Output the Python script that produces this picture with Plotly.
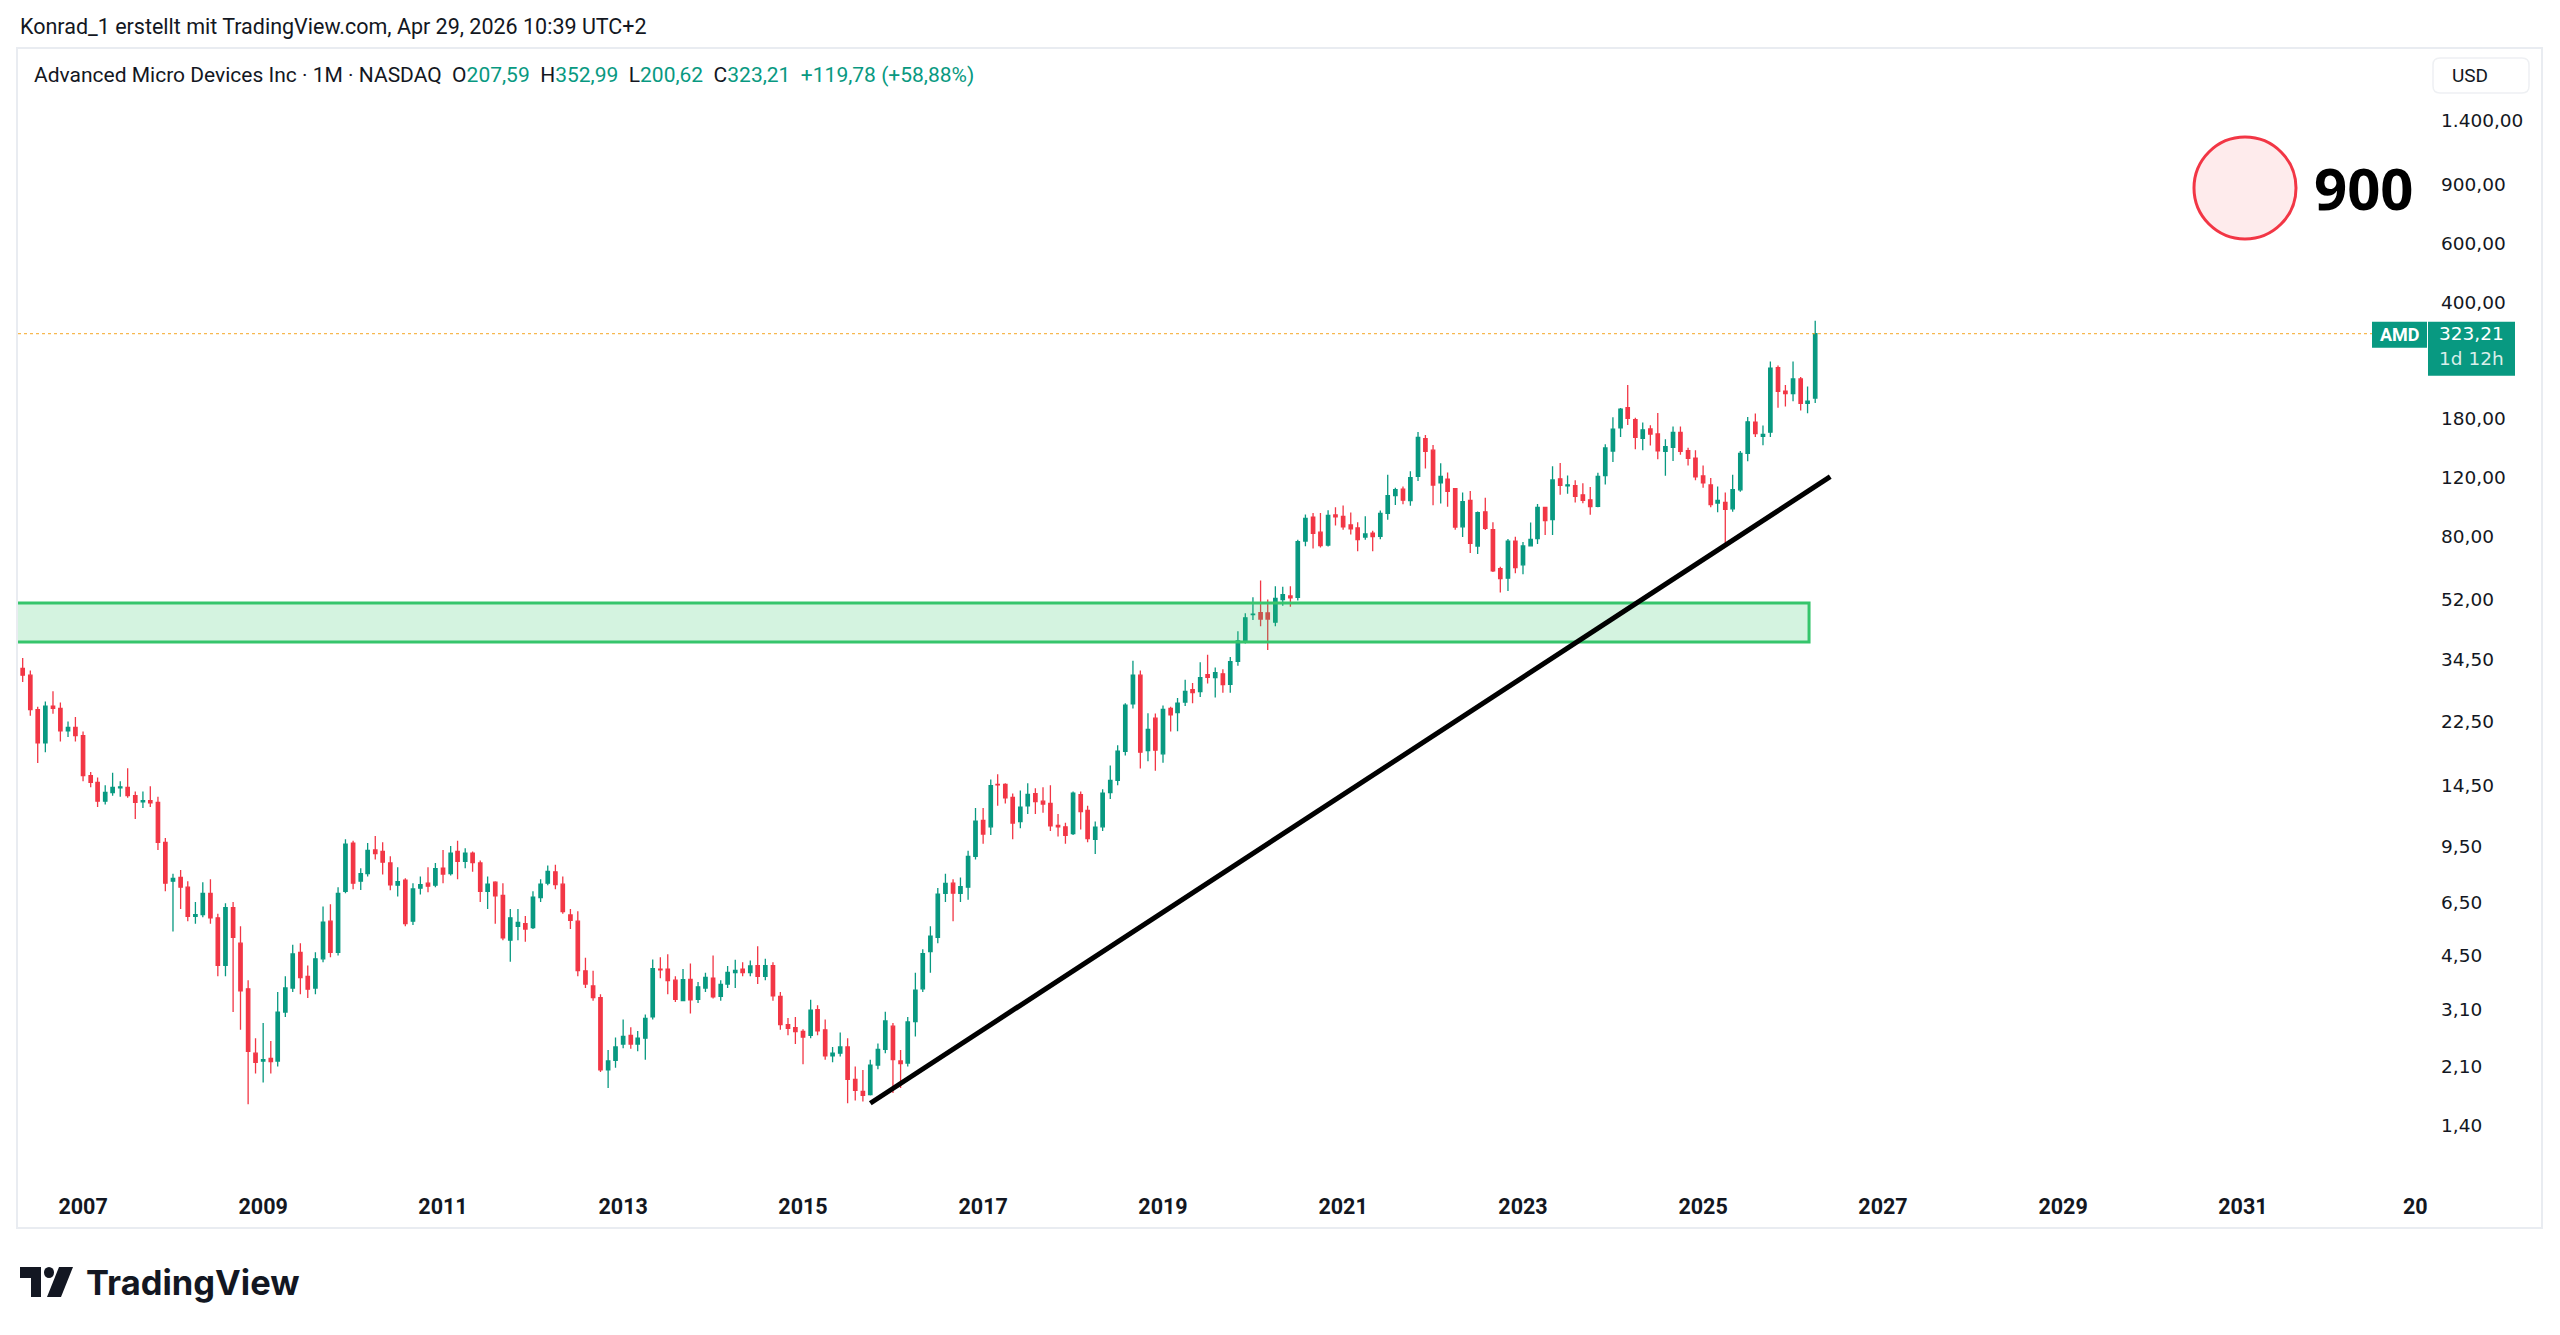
import math
import pandas as pd
import plotly.graph_objects as go

# ---------------- data (monthly candles, AMD, NASDAQ) ----------------
START_MONTH = "2006-05-01"

OPEN = [
    32.4, 30.9, 24.4, 19.4, 25.0, 24.6, 21.1, 21.6,                       # 2006 May-Dec
    20.4, 15.5, 14.8, 13.0, 13.8, 14.25, 14.3, 13.5, 12.95, 13.05, 12.9, 9.8,  # 2007
    7.5, 7.7, 7.2, 5.89, 5.96, 6.9, 5.83, 4.21, 6.25, 4.9, 3.58, 2.3,      # 2008
    2.18, 2.22, 2.18, 3.05, 3.6, 4.6, 3.9, 3.6, 4.4, 5.7, 4.6, 7.0,        # 2009
    9.75, 7.5, 7.9, 9.3, 9.2, 8.5, 7.3, 7.55, 5.7, 7.15, 7.4, 7.3,         # 2010
    8.2, 7.9, 9.2, 8.6, 9.1, 8.5, 7.0, 7.45, 6.8, 5.0, 5.5, 5.6,           # 2011
    5.45, 6.7, 7.4, 8.0, 7.35, 5.95, 5.7, 4.05, 3.65, 3.37, 2.05, 2.19,    # 2012
    2.45, 2.6, 2.45, 2.55, 2.95, 4.1, 4.1, 3.8, 3.3, 3.82, 3.33, 3.6,      # 2013
    3.85, 3.4, 3.7, 4.0, 4.1, 4.0, 4.2, 3.9, 4.2, 3.4, 2.8, 2.74,          # 2014
    2.67, 2.6, 3.1, 2.7, 2.26, 2.3, 2.4, 1.92, 1.77, 1.73, 2.12, 2.36,     # 2015
    2.77, 2.18, 2.15, 2.86, 3.58, 4.62, 5.1, 6.9, 7.4, 6.9, 7.2, 8.9,      # 2016
    11.4, 10.9, 14.6, 14.6, 13.35, 11.3, 12.6, 13.7, 13.0, 12.8, 11.0, 10.9,  # 2017
    10.4, 13.6, 12.2, 10.0, 10.9, 13.8, 15.0, 18.3, 25.4, 30.9, 18.4, 23.0,   # 2018
    18.0, 24.6, 23.9, 25.7, 28.0, 27.6, 31.0, 30.4, 31.2, 29.0, 34.0, 39.3,   # 2019
    46.9, 47.5, 47.4, 44.5, 52.0, 53.3, 52.8, 77.7, 91.6, 82.6, 75.6, 93.0,   # 2020
    92.1, 86.8, 85.0, 79.9, 82.0, 80.2, 94.0, 106.2, 111.0, 102.6, 121.2, 157.0,  # 2021
    145.1, 116.0, 119.0, 111.4, 85.7, 102.8, 75.1, 95.0, 84.0, 64.3, 60.2, 77.6,  # 2022
    66.0, 75.2, 79.0, 97.9, 90.0, 119.2, 113.5, 113.8, 106.8, 103.2, 98.6, 121.8, # 2023
    144.3, 169.3, 194.5, 179.0, 157.4, 168.0, 162.3, 144.0, 147.9, 164.0, 144.6, 137.5,  # 2024
    121.6, 114.3, 100.9, 101.4, 97.0, 110.5, 141.9, 176.0, 159.5, 164.2, 256.0, 217.6,   # 2025
    214.2, 236.7, 200.2, 207.59,                                           # 2026 Jan-Apr
]
HIGH = [
    34.8, 31.9, 24.9, 25.8, 27.7, 25.6, 22.5, 23.2,
    21.0, 15.9, 15.3, 14.5, 15.8, 14.9, 16.3, 13.9, 13.9, 14.4, 13.4, 10.1,
    7.9, 8.1, 7.5, 6.5, 7.45, 7.6, 6.0, 6.45, 6.5, 5.5, 3.8, 2.55,
    2.83, 2.5, 3.5, 3.9, 4.85, 4.9, 4.2, 4.6, 6.3, 6.4, 7.2, 10.0,
    9.9, 8.2, 9.75, 10.24, 9.8, 8.9, 8.25, 7.65, 7.4, 7.75, 8.25, 8.5,
    9.3, 9.55, 9.9, 9.4, 9.2, 8.65, 7.75, 7.5, 7.4, 6.2, 6.2, 5.9,
    7.0, 7.6, 8.35, 8.4, 7.75, 6.2, 6.1, 4.43, 4.05, 3.45, 2.35, 2.56,
    2.9, 2.75, 2.68, 3.0, 4.38, 4.45, 4.54, 3.9, 4.1, 4.26, 3.75, 4.0,
    4.5, 3.8, 4.19, 4.37, 4.3, 4.35, 4.8, 4.4, 4.3, 3.5, 2.93, 2.95,
    2.71, 3.32, 3.2, 2.9, 2.4, 2.65, 2.55, 2.1, 2.05, 2.2, 2.46, 3.06,
    2.83, 2.35, 2.95, 4.0, 4.7, 5.5, 7.16, 7.89, 7.6, 7.7, 9.25, 12.4,
    12.4, 15.1, 15.65, 14.7, 13.7, 14.0, 14.7, 14.2, 14.3, 14.5, 11.9, 11.2,
    13.9, 13.9, 12.6, 11.3, 14.1, 16.6, 19.1, 25.5, 34.14, 31.9, 23.8, 23.75,
    25.1, 24.9, 26.4, 29.95, 29.3, 33.78, 35.55, 32.6, 32.2, 35.0, 41.8, 47.3,
    52.81, 59.27, 52.0, 57.0, 56.8, 57.0, 78.4, 93.2, 94.3, 94.3, 96.0, 97.98,
    99.23, 94.5, 88.5, 92.2, 83.4, 95.9, 122.5, 112.0, 113.0, 125.6, 164.46, 161.0,
    150.5, 132.7, 124.5, 111.9, 108.4, 109.6, 95.2, 104.6, 88.5, 65.1, 78.8, 80.0,
    77.2, 88.3, 100.3, 98.3, 130.0, 132.8, 122.0, 118.0, 115.7, 112.6, 124.2, 151.1,
    181.9, 194.0, 227.3, 181.5, 175.4, 172.2, 187.3, 156.5, 170.9, 170.8, 147.6, 145.0,
    130.6, 119.9, 113.0, 108.5, 122.5, 144.2, 182.3, 186.7, 172.0, 267.1, 259.7, 227.0,
    267.0, 240.0, 225.0, 352.99,
]
LOW = [
    29.5, 23.4, 16.9, 18.2, 23.7, 19.6, 20.2, 19.6,
    14.9, 14.3, 12.5, 12.7, 13.5, 13.4, 13.3, 11.5, 12.4, 12.5, 9.3, 7.0,
    5.31, 6.2, 5.7, 5.6, 5.85, 5.6, 3.9, 3.9, 3.05, 2.7, 1.62, 2.0,
    1.88, 2.0, 2.1, 2.95, 3.5, 3.45, 3.36, 3.45, 4.3, 4.45, 4.5, 6.9,
    7.1, 7.06, 7.75, 8.7, 7.85, 7.05, 6.75, 5.5, 5.55, 6.85, 6.95, 7.2,
    7.4, 7.8, 7.6, 8.2, 8.0, 6.5, 6.2, 5.6, 5.0, 4.31, 5.0, 4.95,
    5.4, 6.5, 7.3, 7.1, 6.0, 5.4, 3.9, 3.6, 3.3, 2.02, 1.81, 2.08,
    2.38, 2.37, 2.33, 2.2, 2.9, 3.85, 3.45, 3.27, 3.3, 3.02, 3.25, 3.5,
    3.35, 3.3, 3.6, 3.6, 3.9, 3.9, 3.7, 3.8, 3.3, 2.7, 2.6, 2.45,
    2.13, 2.55, 2.6, 2.2, 2.16, 2.25, 1.63, 1.66, 1.65, 1.72, 2.06, 2.3,
    1.75, 1.81, 2.1, 2.58, 3.5, 4.0, 4.9, 6.5, 5.7, 6.5, 6.6, 8.7,
    9.7, 10.3, 12.6, 12.8, 10.0, 10.8, 11.9, 11.9, 12.0, 10.6, 10.2, 9.7,
    10.3, 10.7, 9.8, 9.04, 10.6, 13.2, 14.5, 17.8, 24.6, 16.27, 17.1, 16.03,
    16.94, 21.0, 21.04, 25.0, 25.5, 26.6, 29.2, 26.5, 27.4, 27.4, 33.0, 38.4,
    45.2, 43.3, 36.75, 43.3, 49.8, 49.5, 51.6, 75.0, 73.8, 74.3, 74.8, 86.5,
    84.0, 81.3, 72.5, 78.4, 72.5, 78.7, 90.0, 99.5, 100.0, 99.0, 117.4, 128.0,
    99.35, 100.6, 98.4, 84.0, 79.9, 71.6, 71.1, 83.8, 62.8, 54.57, 55.1, 62.3,
    61.9, 75.0, 76.1, 81.0, 81.0, 106.8, 107.6, 101.3, 100.8, 93.1, 98.0, 114.6,
    133.7, 159.0, 172.5, 146.0, 145.1, 149.8, 136.4, 121.83, 134.7, 140.7, 130.6, 118.0,
    112.0, 98.0, 94.7, 76.48, 95.0, 109.0, 134.5, 159.0, 150.0, 159.0, 194.3, 196.0,
    203.0, 190.7, 187.0, 200.62,
]
CLOSE = [
    30.9, 24.4, 19.4, 25.0, 24.6, 21.1, 21.6, 20.4,
    15.5, 14.8, 13.0, 13.8, 14.3, 14.35, 13.5, 12.9, 13.05, 12.85, 9.8, 7.4,
    7.64, 7.2, 5.89, 5.96, 6.9, 5.83, 4.21, 6.25, 5.1, 3.53, 2.33, 2.16,
    2.2, 2.17, 3.05, 3.6, 4.55, 3.87, 3.57, 4.4, 5.66, 4.6, 6.9, 9.68,
    7.4, 7.9, 9.27, 9.06, 8.55, 7.32, 7.48, 5.6, 7.11, 7.33, 7.25, 8.18,
    7.88, 9.1, 8.6, 9.1, 8.52, 6.99, 7.35, 6.78, 5.08, 5.83, 5.65, 5.40,
    6.72, 7.35, 8.02, 7.33, 6.09, 5.73, 4.06, 3.70, 3.37, 2.05, 2.18, 2.40,
    2.58, 2.45, 2.55, 2.92, 4.11, 4.08, 3.79, 3.33, 3.81, 3.32, 3.63, 3.87,
    3.39, 3.69, 4.01, 4.06, 4.0, 4.19, 3.90, 4.2, 3.41, 2.80, 2.73, 2.67,
    2.57, 3.09, 2.68, 2.26, 2.30, 2.40, 1.92, 1.78, 1.72, 2.12, 2.36, 2.87,
    2.20, 2.14, 2.85, 3.55, 4.56, 5.14, 6.86, 7.39, 6.91, 7.23, 8.90, 11.34,
    10.37, 14.46, 14.55, 13.30, 11.19, 12.48, 13.62, 12.97, 12.75, 10.98, 10.89, 10.28,
    13.74, 12.11, 10.05, 10.88, 13.73, 14.99, 18.33, 25.17, 30.89, 18.21, 21.30, 18.46,
    24.41, 23.53, 25.52, 27.63, 27.41, 30.37, 30.45, 31.45, 28.99, 33.93, 39.15, 45.86,
    47.0, 45.48, 45.48, 52.39, 53.8, 52.61, 77.43, 90.82, 81.99, 75.29, 92.66, 91.71,
    85.64, 84.51, 78.5, 81.62, 80.08, 93.93, 106.19, 110.72, 102.9, 120.23, 158.37, 143.9,
    114.25, 121.28, 109.34, 85.52, 101.86, 76.47, 94.47, 84.87, 63.36, 60.06, 77.63, 64.77,
    75.15, 78.58, 98.01, 89.37, 118.21, 113.91, 114.40, 105.72, 102.82, 98.5, 121.16, 147.41,
    167.69, 192.53, 180.49, 158.38, 166.9, 162.21, 144.48, 148.56, 164.08, 144.04, 137.18, 120.79,
    115.95, 99.86, 102.74, 96.65, 110.73, 141.9, 176.31, 162.63, 161.79, 254.84, 217.6, 214.2,
    236.7, 200.2, 203.43, 323.21,
]

YEAR_TICKS = list(range(2007, 2033, 2))
PRICE_TICKS = [1.4, 2.1, 3.1, 4.5, 6.5, 9.5, 14.5, 22.5, 34.5, 52, 80, 120, 180, 400, 600, 900, 1400]

ZONE_X = ["2005-01-01", "2026-03-07"]      # horizontal support zone
ZONE_Y = [38.8, 50.8]
TREND_X = ["2015-10-01", "2026-06-01"]     # rising trend line
TREND_Y = [1.63, 121.0]
TARGET_LABEL = "900"

TICKER = "AMD"
TITLE = "Advanced Micro Devices Inc \u00b7 1M \u00b7 NASDAQ"
HEADER = "Konrad_1 erstellt mit TradingView.com, Apr 29, 2026 10:39 UTC+2"
COUNTDOWN = "1d 12h"

# ---------------- styling / geometry ----------------
W, H = 2560, 1335
PL, PR, PT, PB = 18, 2428, 49, 1183      # pane edges in px
X_RANGE = ["2006-04-12", "2033-01-21"]
LOG_TOP, LOG_BOT = 3.35928, -0.02579
UP, DOWN = "#089981", "#F23645"
TXT = "#131722"
FONT = "Roboto, 'Open Sans', sans-serif"
AXFONT = "'DejaVu Sans', Roboto, sans-serif"

DATES = pd.date_range(START_MONTH, periods=len(CLOSE), freq="MS")


def px(x):
    return x / W


def py(y):
    return 1 - y / H


def price_to_px(p):
    return PT + (LOG_TOP - math.log10(p)) * (PB - PT) / (LOG_TOP - LOG_BOT)


def de(v, nd=2):
    s = f"{v:,.{nd}f}"
    return s.replace(",", "X").replace(".", ",").replace("X", ".")


fig = go.Figure()

# support zone
fig.add_trace(go.Scatter(
    x=[ZONE_X[0], ZONE_X[1], ZONE_X[1], ZONE_X[0], ZONE_X[0]],
    y=[ZONE_Y[0], ZONE_Y[0], ZONE_Y[1], ZONE_Y[1], ZONE_Y[0]],
    mode="lines", fill="toself", fillcolor="rgba(54,197,108,0.21)",
    line=dict(color="#36C56C", width=3), hoverinfo="skip", showlegend=False))

# last price line
fig.add_trace(go.Scatter(
    x=X_RANGE, y=[CLOSE[-1], CLOSE[-1]], mode="lines",
    line=dict(color="rgba(245,166,35,0.8)", width=1.2, dash="dot"), hoverinfo="skip", showlegend=False))

# candles
fig.add_trace(go.Candlestick(
    x=DATES, open=OPEN, high=HIGH, low=LOW, close=CLOSE,
    increasing=dict(line=dict(color=UP, width=1.3), fillcolor=UP),
    decreasing=dict(line=dict(color=DOWN, width=1.3), fillcolor=DOWN),
    whiskerwidth=0, showlegend=False, name=TICKER))

# trend line
fig.add_trace(go.Scatter(
    x=TREND_X, y=TREND_Y, mode="lines", line=dict(color="#000000", width=5),
    hoverinfo="skip", showlegend=False))

shapes = []
# chart frame
shapes.append(dict(type="rect", xref="paper", yref="paper",
                   x0=px(17), x1=px(2542), y0=py(1228), y1=py(48),
                   line=dict(color="#E9ECF1", width=2), fillcolor="rgba(0,0,0,0)", layer="below"))
# USD box (rounded)
bx0, bx1, by0, by1, r = 2433, 2529, 58, 93, 7
path = (f"M {px(bx0+r)},{py(by0)} L {px(bx1-r)},{py(by0)} "
        f"Q {px(bx1)},{py(by0)} {px(bx1)},{py(by0+r)} L {px(bx1)},{py(by1-r)} "
        f"Q {px(bx1)},{py(by1)} {px(bx1-r)},{py(by1)} L {px(bx0+r)},{py(by1)} "
        f"Q {px(bx0)},{py(by1)} {px(bx0)},{py(by1-r)} L {px(bx0)},{py(by0+r)} "
        f"Q {px(bx0)},{py(by0)} {px(bx0+r)},{py(by0)} Z")
shapes.append(dict(type="path", xref="paper", yref="paper", path=path,
                   line=dict(color="#EEF0F3", width=1.5), fillcolor="white"))
# target circle
cx, cy, cr = 2245, 188, 51
shapes.append(dict(type="circle", xref="paper", yref="paper",
                   x0=px(cx-cr), x1=px(cx+cr), y0=py(cy+cr), y1=py(cy-cr),
                   line=dict(color="#F23645", width=3), fillcolor="rgba(242,54,69,0.1)"))
# last price labels
yl = price_to_px(CLOSE[-1])
shapes.append(dict(type="rect", xref="paper", yref="paper",
                   x0=px(2372), x1=px(2427), y0=py(yl+14), y1=py(yl-12),
                   line=dict(width=0), fillcolor=UP))
shapes.append(dict(type="rect", xref="paper", yref="paper",
                   x0=px(2428), x1=px(2515), y0=py(yl+42), y1=py(yl-12),
                   line=dict(width=0), fillcolor=UP))
# TradingView logo
shapes.append(dict(type="path", xref="paper", yref="paper",
                   path=f"M {px(20)},{py(1267)} L {px(41)},{py(1267)} L {px(41)},{py(1297)} "
                        f"L {px(31)},{py(1297)} L {px(31)},{py(1278)} L {px(20)},{py(1278)} Z",
                   line=dict(width=0), fillcolor="#131722"))
shapes.append(dict(type="circle", xref="paper", yref="paper",
                   x0=px(44), x1=px(54), y0=py(1278), y1=py(1267),
                   line=dict(width=0), fillcolor="#131722"))
shapes.append(dict(type="path", xref="paper", yref="paper",
                   path=f"M {px(59)},{py(1267)} L {px(73)},{py(1267)} L {px(61)},{py(1297)} "
                        f"L {px(47)},{py(1297)} Z",
                   line=dict(width=0), fillcolor="#131722"))

g = lambda s: f"<span style='color:{UP}'>{s}</span>"
chg = CLOSE[-1] - CLOSE[-2]
pct = chg / CLOSE[-2] * 100
sp = "\u00a0"
legend_txt = (f"{TITLE}{sp}{sp}O{g(de(OPEN[-1]))}{sp}{sp}H{g(de(HIGH[-1]))}{sp}{sp}"
              f"L{g(de(LOW[-1]))}{sp}{sp}C{g(de(CLOSE[-1]))}{sp}{sp}"
              f"{g(('+' if chg >= 0 else '') + de(chg) + ' (' + ('+' if pct >= 0 else '') + de(pct) + '%)')}")

annotations = [
    dict(text=HEADER, x=px(18), y=py(26), xanchor="left", yanchor="middle",
         font=dict(family=FONT, size=21.5, color=TXT)),
    dict(text=legend_txt, x=px(32), y=py(75), xanchor="left", yanchor="middle",
         font=dict(family=FONT, size=21, color=TXT)),
    dict(text="USD", x=px(2470), y=py(76), xanchor="center", yanchor="middle",
         font=dict(family=FONT, size=19, color=TXT)),
    dict(text=f"<b>{TARGET_LABEL}</b>", x=px(2364), y=py(188), xanchor="center", yanchor="middle",
         font=dict(family="'Open Sans', sans-serif", size=58, color="#000000")),
    dict(text=f"<b>{TICKER}</b>", x=px(2399.5), y=py(yl + 1), xanchor="center", yanchor="middle",
         font=dict(family=FONT, size=18, color="white")),
    dict(text=de(CLOSE[-1]), x=px(2471), y=py(yl), xanchor="center", yanchor="middle",
         font=dict(family=AXFONT, size=18.5, color="white")),
    dict(text=COUNTDOWN, x=px(2471), y=py(yl + 25), xanchor="center", yanchor="middle",
         font=dict(family=AXFONT, size=18.5, color="rgba(255,255,255,0.85)")),
    dict(text="<b>TradingView</b>", x=px(84), y=py(1282), xanchor="left", yanchor="middle",
         font=dict(family="Inter, Roboto, sans-serif", size=34.5, color="#131722")),
    dict(text="<b>20</b>", x=px(2401), y=py(1206), xanchor="left", yanchor="middle",
         font=dict(family=FONT, size=21.5, color=TXT)),
]
for a in annotations:
    a.update(xref="paper", yref="paper", showarrow=False)

fig.update_layout(
    width=W, height=H, margin=dict(l=0, r=0, t=0, b=0),
    paper_bgcolor="white", plot_bgcolor="white",
    shapes=shapes, annotations=annotations, hovermode=False,
    font=dict(family=FONT, color=TXT),
    xaxis=dict(
        type="date", domain=[px(PL), px(PR)], range=X_RANGE,
        rangeslider=dict(visible=False), showgrid=False, zeroline=False, showline=False,
        tickvals=[f"{y}-01-01" for y in YEAR_TICKS],
        ticktext=[f"<b>{y}</b>" for y in YEAR_TICKS],
        ticks="", ticklabelstandoff=8,
        tickfont=dict(family=FONT, size=21.5, color=TXT), fixedrange=True),
    yaxis=dict(
        type="log", domain=[py(PB), py(PT)], range=[LOG_BOT, LOG_TOP], side="right",
        showgrid=False, zeroline=False, showline=False,
        tickvals=PRICE_TICKS, ticktext=[de(v) for v in PRICE_TICKS],
        ticks="", ticklabelstandoff=12,
        tickfont=dict(family=AXFONT, size=18.5, color=TXT), fixedrange=True),
)

fig.write_html("out.html", config={"displayModeBar": False})
